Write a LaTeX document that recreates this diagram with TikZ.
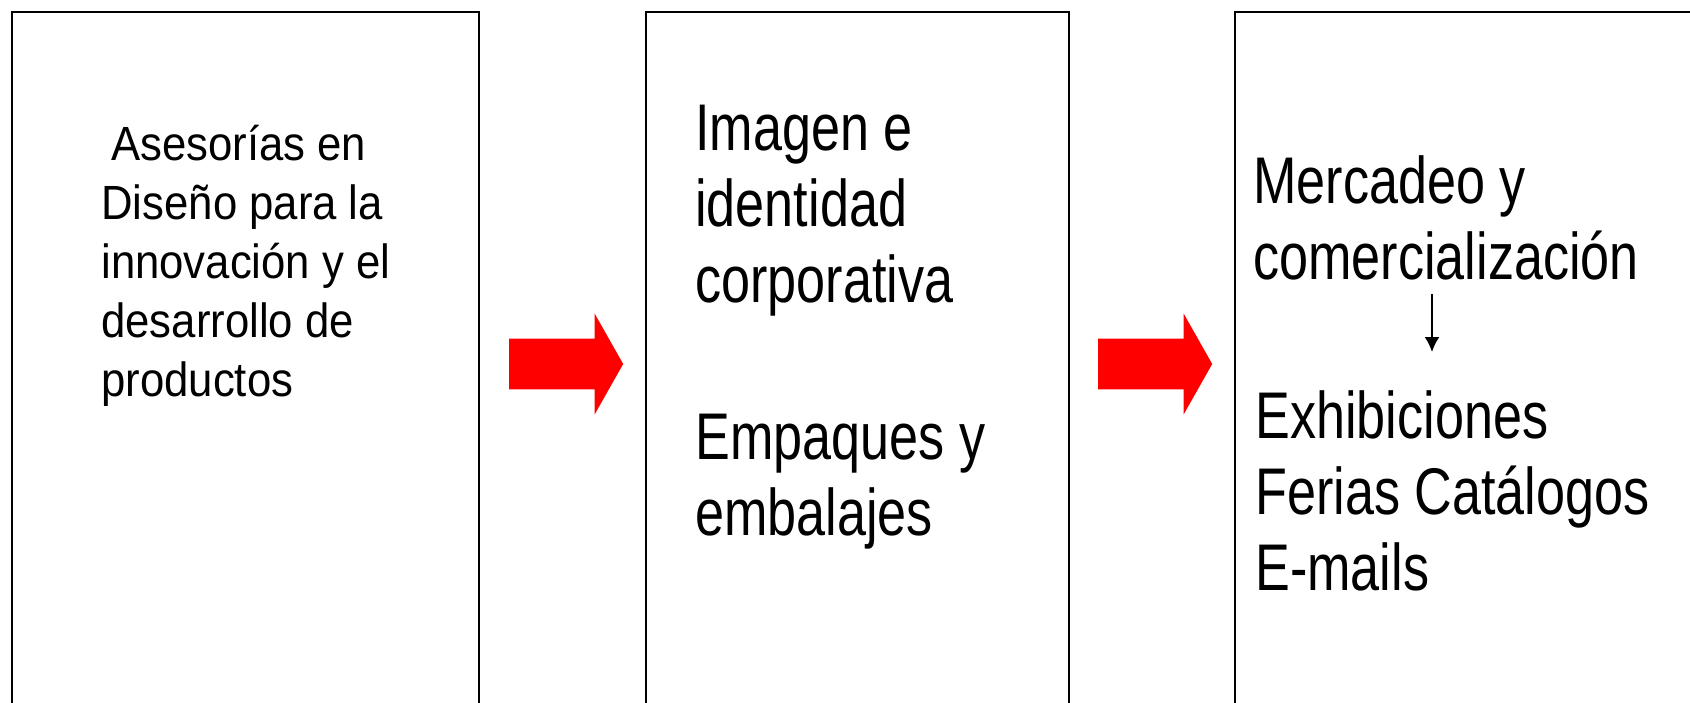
\documentclass[tikz,border=0pt]{standalone}
\usepackage{fontspec}
\setmainfont{Liberation Sans}
\newfontfamily\letrachica[FakeStretch=0.91]{Liberation Sans}
\newfontfamily\letragrande[FakeStretch=0.79]{Liberation Sans}
\usetikzlibrary{shapes.arrows,arrows.meta,calc}
\tikzset{
    caja/.style={draw,line width=1pt,anchor=north west,minimum height=400pt,inner sep=0pt},
    texto/.style={anchor=north west,inner sep=0pt,align=left},
    chica/.style={font=\letrachica\fontsize{24}{29.5}\selectfont},
    grande/.style={font=\letragrande\fontsize{33}{38}\selectfont},
    flecha/.style={single arrow,fill=red,draw=none,inner xsep=0pt,inner ysep=12.5pt,
        minimum width=0pt,minimum height=57pt,single arrow head extend=12.5pt,
        single arrow tip angle=121}
}
\begin{document}
\begin{tikzpicture}[x=0.5pt,y=-0.5pt]
    \useasboundingbox (0,0) rectangle (1690,702);
    \clip (0,0) rectangle (1690,702);
    % las tres cajas
    \node[caja,minimum width=233.5pt] (caja1) at (11,11) {};
    \node[caja,minimum width=211.75pt] (caja2) at (644.5,11) {};
    \node[caja,minimum width=300pt] (caja3) at (1234,11) {};
    % flechas rojas
    \foreach \x/\n in {559/1,1148/2}
    {
        \node[flecha] (flecha\n) at (\x,364) {};
    }
    % textos
    \node[texto,chica] (asesorias) at (101,125)
        {\hspace*{5pt}Asesorías en\\Diseño para la\\innovación y el\\desarrollo de\\productos};
    \node[texto,grande] (imagen) at (695,105) {Imagen e\\identidad\\corporativa};
    \node[texto,grande] (empaques) at (695,414) {Empaques y\\embalajes};
    \node[texto,grande] (mercadeo) at (1253,155) {Mercadeo y\\comercialización};
    \node[texto,grande] (canales) at (1255,390) {Exhibiciones\\Ferias Catálogos\\E-mails};
    \coordinate (eje) at (1432,0);
    \draw[line width=1pt,-{Latex[length=7.5pt,width=7.5pt]}]
        ($(mercadeo.south -| eje)+(0,14)$) -- ($(canales.north -| eje)+(0,-38)$);
\end{tikzpicture}
\end{document}
